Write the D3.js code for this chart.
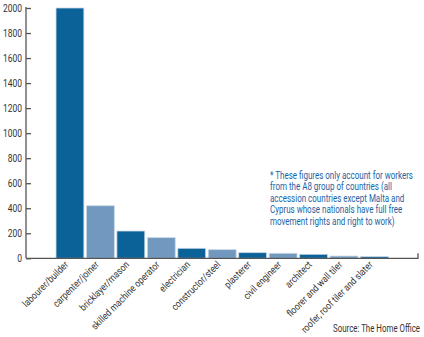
<!DOCTYPE html>
<html><head><meta charset="utf-8">
<script src="https://cdn.jsdelivr.net/npm/d3@7"></script>
<style>
html,body{margin:0;padding:0;background:#fff;}
svg{display:block;}
text{font-family:"Roboto","Liberation Sans",sans-serif;}
</style></head>
<body>
<svg id="c" width="424" height="337"></svg>
<script>
const categories = ["labourer/builder","carpenter/joiner","bricklayer/mason","skilled machine operator","electrician","constructor/steel","plasterer","civil engineer","architect","floorer and wall tiler","roofer, roof tiler and slater"];
const values = [2000,420,218,165,80,69,45,40,32,18,13];
const yTicks = [0,200,400,600,800,1000,1200,1400,1600,1800,2000];
const noteLines = ["* These figures only account for workers","from the A8 group of countries (all","accession countries except Malta and","Cyprus whose nationals have full free","movement rights and right to work)"];
const source = "Source: The Home Office";

const svg = d3.select("#c");
const axisX = 26, baseY = 258.3, topY = 8, rightX = 418;
const y = d3.scaleLinear().domain([0,2000]).range([baseY, topY]);
const x = d3.scaleBand().domain(categories).range([54.8, 389.6]).paddingInner(0.085).paddingOuter(0.04);

const dark = "#0a6299", light = "#7199bf";

function condense(sel, refIndex, target) {
  const nodes = sel.nodes();
  const k = target / nodes[refIndex].getComputedTextLength();
  nodes.forEach(n => {
    const L = n.getComputedTextLength();
    n.setAttribute("textLength", (L * k).toFixed(2));
    n.setAttribute("lengthAdjust", "spacingAndGlyphs");
  });
}

svg.append("g").selectAll("rect").data(values).join("rect")
  .attr("x", (d,i)=>x(categories[i]))
  .attr("y", d=>y(d))
  .attr("width", x.bandwidth())
  .attr("height", d=>baseY - y(d))
  .attr("fill", (d,i)=> i%2===0 ? dark : light)
  .attr("stroke", "#c9d8e6").attr("stroke-width", 0.8);

const yAxis = d3.axisRight(y).tickValues(yTicks).tickSize(5).tickFormat("");
const gy = svg.append("g").attr("transform",`translate(${axisX},0)`).call(yAxis);
gy.select(".domain").remove();
gy.selectAll(".tick line").attr("stroke","#555").attr("stroke-width",1.3);
svg.append("line").attr("x1",axisX).attr("x2",axisX).attr("y1",topY-1).attr("y2",baseY).attr("stroke","#555").attr("stroke-width",1.3);
const yl = svg.append("g").selectAll("text").data(yTicks).join("text")
  .attr("x",22).attr("y",d=>y(d)+3.7).attr("text-anchor","end")
  .attr("font-size",10.5).attr("fill","#333").text(d=>d);
condense(yl, 10, 19);

svg.append("path").attr("d",`M${axisX},${baseY}H${rightX}V${baseY-5}`)
  .attr("fill","none").attr("stroke","#555").attr("stroke-width",1.3);

const xl = svg.append("g").selectAll("text").data(categories).join("text")
  .attr("transform", d=>`translate(${x(d)+x.bandwidth()/2-1},${baseY+7}) rotate(-45)`)
  .attr("text-anchor","end").attr("font-size",10).attr("fill","#333").text(d=>d);
condense(xl, 3, 92);

const nl = svg.append("g").selectAll("text").data(noteLines).join("text")
  .attr("x",270).attr("y",(d,i)=>178.8+i*11.5)
  .attr("font-size",10.2).attr("fill","#1b63a4").text(d=>d);
condense(nl, 0, 143);

const st = svg.append("text").attr("x",420).attr("y",332).attr("text-anchor","end")
  .attr("font-size",10.5).attr("fill","#333").text(source);
condense(st, 0, 87);
</script>
</body></html>
